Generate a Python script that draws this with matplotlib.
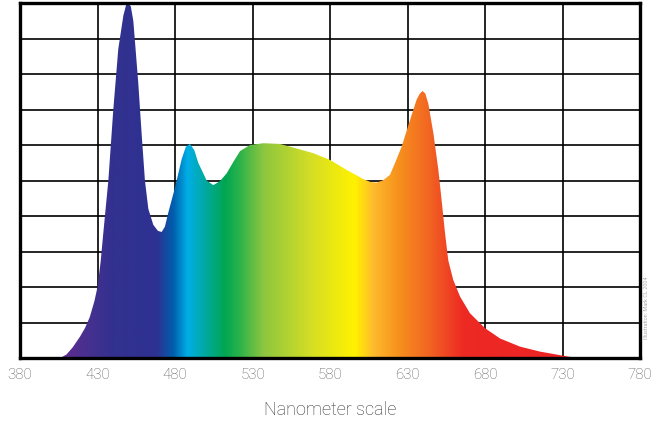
import numpy as np
import matplotlib
matplotlib.use("Agg")
import matplotlib.pyplot as plt
from matplotlib.colors import LinearSegmentedColormap, to_rgb
from matplotlib.patches import Polygon
from matplotlib import font_manager

# ---- data ----
wavelength = [406, 410, 414, 418.7, 422, 425, 428, 430, 432, 433.7, 437, 440.2, 443.4, 446.7,
              448.5, 450, 451.5, 453.1, 456.3, 458.5, 460.6, 462.8, 466, 469, 471.4, 473.5,
              475.7, 480, 484.3, 487, 489.7, 492.5, 495, 500.4, 504.7, 509, 513.3, 518, 522,
              528.4, 537, 547.7, 558.5, 569.2, 580, 590.7, 601.5, 606, 610, 614,
              618.7, 622, 626.2, 631.6, 635.9, 638, 639.7, 641.5, 643.4, 646.7,
              649.9, 652, 654.2, 656.3, 659.5, 663.9, 670.3, 680, 689.7, 702.6,
              715.5, 728.4, 739]
intensity = [0, 0.1, 0.3, 0.6, 0.85, 1.15, 1.6, 2.0, 2.7, 3.5, 5.0, 7.0, 8.7, 9.65,
             9.95, 10.0, 9.9, 9.5, 7.75, 6.3, 5.0, 4.2, 3.75, 3.58, 3.55, 3.7,
             4.1, 4.8, 5.6, 5.95, 6.03, 5.85, 5.5, 5.0, 4.87, 4.98, 5.2, 5.55, 5.83,
             6.0, 6.05, 6.03, 5.9, 5.77, 5.58, 5.3, 5.04, 4.96, 4.94, 5.0,
             5.16, 5.5, 5.95, 6.7, 7.28, 7.45, 7.52, 7.45, 7.17, 6.33,
             5.3, 4.45, 3.52, 2.75, 2.2, 1.73, 1.26, 0.84, 0.55, 0.32,
             0.18, 0.08, 0]

tick_values = [380, 430, 480, 530, 580, 630, 680, 730, 780]
tick_labels = ["380", "430", "480", "530", "580", "630", "680", "730", "780"]

# spectrum colour stops (wavelength, colour)
stop_nm = [380, 410, 425, 440, 468, 479, 488, 500, 512, 522, 537, 569, 596, 608, 623, 644, 666, 780]
stop_col = ["#5c2d91", "#5a2d90", "#45308f", "#32318f", "#2e3192", "#005fae", "#00aee6",
            "#00a99d", "#00a651", "#2db34a", "#8dc63f", "#d7df23", "#fff200", "#fdbb2d",
            "#f7941d", "#f26522", "#ee2a24", "#ed1c24"]

# ---- fonts ----
avail = {f.name for f in font_manager.fontManager.ttflist}
fam = [f for f in ["Roboto", "Liberation Sans", "DejaVu Sans"] if f in avail] or ["DejaVu Sans"]
plt.rcParams['font.family'] = fam

fig = plt.figure(figsize=(6.51, 4.26), dpi=100)
ax = fig.add_axes([20/651, 68/426, 620/651, 355/426])
ax.set_xlim(380, 780)
ax.set_ylim(0, 10)

# grid
ax.set_xticks(tick_values)
ax.set_xticklabels(tick_labels)
ax.set_yticks(np.arange(0, 11, 1))
ax.grid(True, color="black", linewidth=1.2, zorder=0)
ax.set_axisbelow(True)
ax.tick_params(axis="y", length=0, labelleft=False)
ax.tick_params(axis="x", length=0, pad=7, labelsize=10.8, labelcolor="#5a5a5a")
for lab in ax.get_xticklabels():
    lab.set_fontweight("light")
for s in ax.spines.values():
    s.set_linewidth(2.4)
    s.set_color("black")
    s.set_zorder(5)

# gradient image clipped to spectrum
pos = [(n - 380) / 400 for n in stop_nm]
cmap = LinearSegmentedColormap.from_list("spec", list(zip(pos, [to_rgb(c) for c in stop_col])), N=1024)
grad = np.linspace(0, 1, 1200).reshape(1, -1)
im = ax.imshow(grad, extent=[380, 780, 0, 10], aspect="auto", cmap=cmap,
               origin="lower", zorder=2, interpolation="bilinear")
verts = list(zip(wavelength, intensity))
verts = [(wavelength[0], 0)] + verts + [(wavelength[-1], 0)]
poly = Polygon(verts, closed=True, facecolor="none", edgecolor="none", transform=ax.transData)
ax.add_patch(poly)
im.set_clip_path(poly)

fig.text(330/651, 1 - 410/426, "Nanometer scale", ha="center", va="center",
         fontsize=13, color="#333333", fontweight="light")
fig.text(646/651, 1 - 308/426, "Illustration: Mark CL 2004", rotation=90,
         ha="center", va="center", fontsize=4, color="#aaaaaa")

fig.savefig("out.png", dpi=100)
